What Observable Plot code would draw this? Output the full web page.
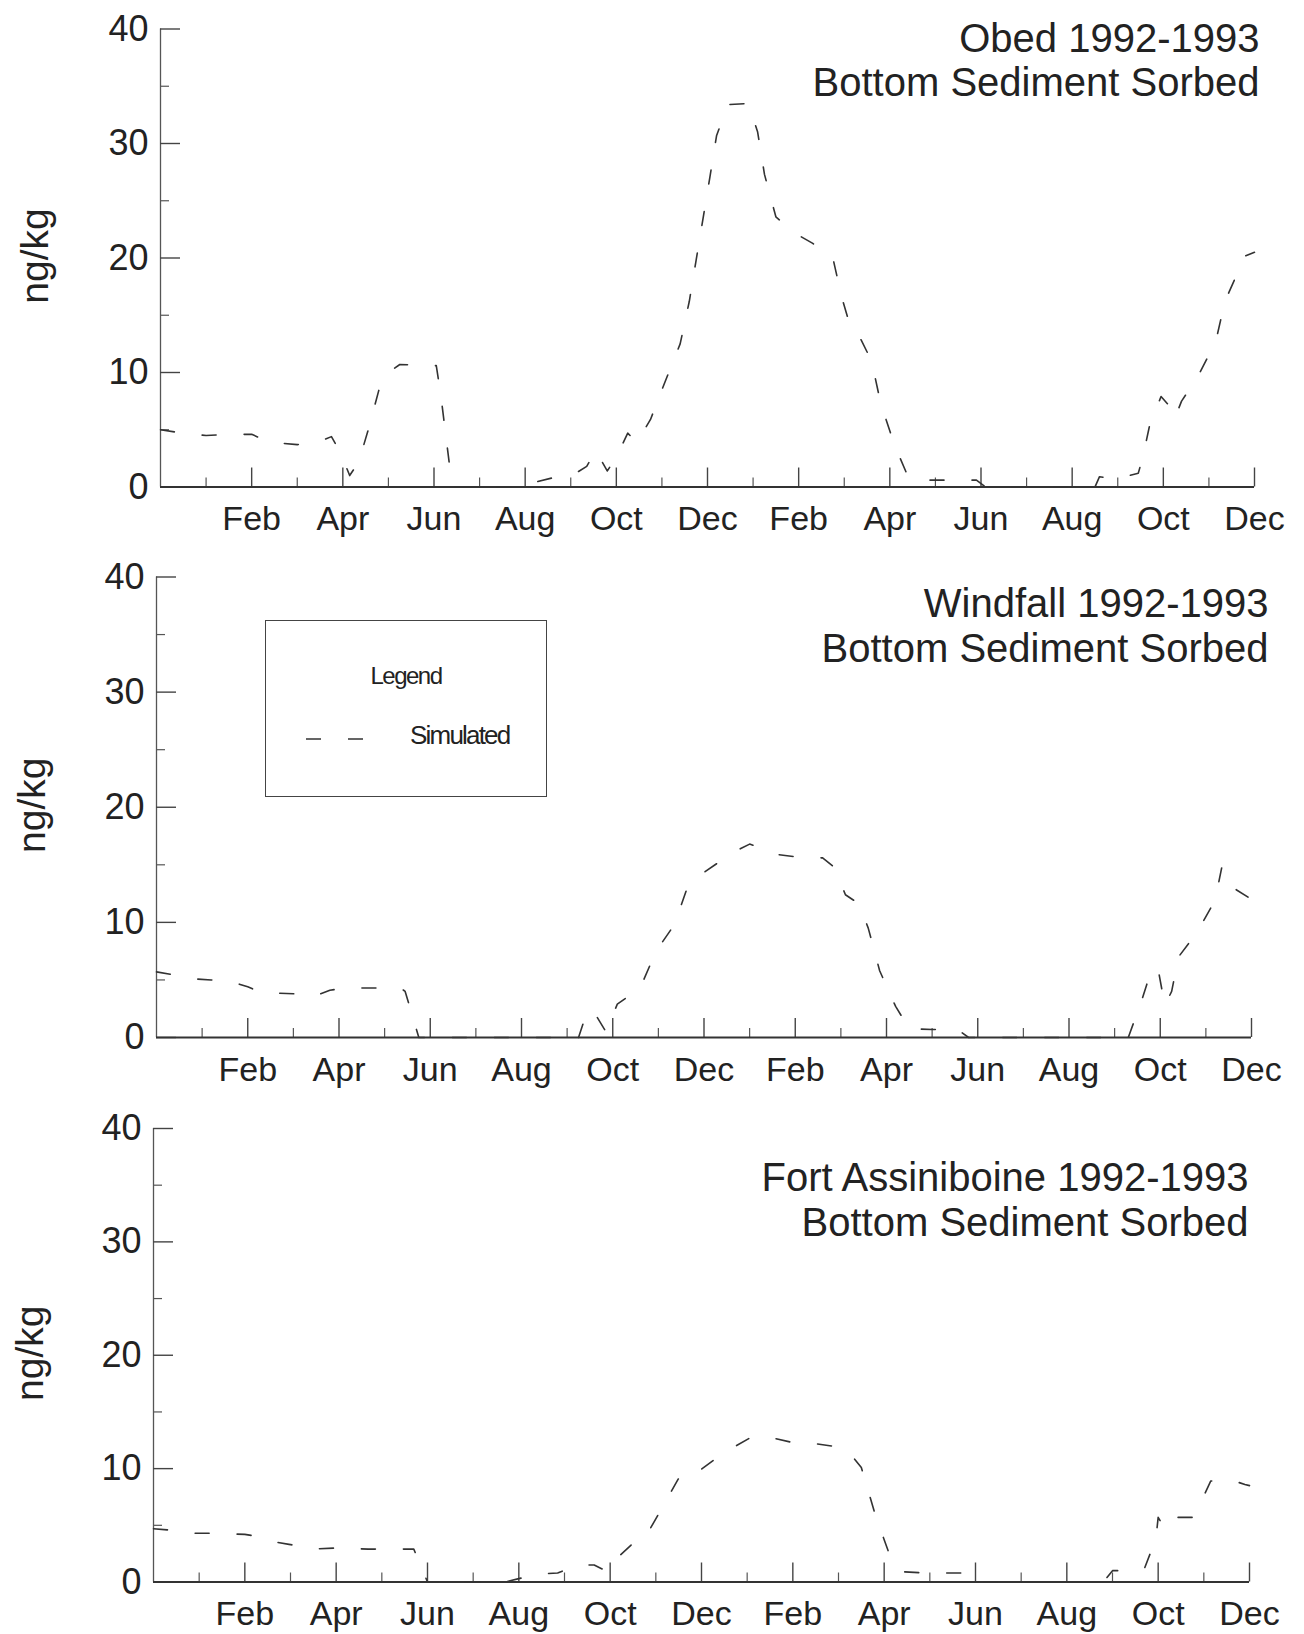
<!DOCTYPE html>
<html>
<head>
<meta charset="utf-8">
<script src="https://cdn.jsdelivr.net/npm/d3@7"></script>
<script src="https://cdn.jsdelivr.net/npm/@observablehq/plot@0.6"></script>
<style>
  body { margin: 0; background: #fff; }
  #chart { position: relative; width: 1304px; height: 1634px; font-family: "Liberation Sans", Arial, sans-serif; color: #222; }
  .panel { position: absolute; left: 0; }
  .panel svg { overflow: visible; }
  .legend { position: absolute; box-sizing: border-box; border: 1.5px solid #444; background: #fff; }
  .legend .head { position: absolute; left: 0; right: 0; text-align: center; font-size: 24px; letter-spacing: -1.5px; color: #222; }
  .legend .item { position: absolute; font-size: 26px; letter-spacing: -1.8px; color: #222; }
  .legend svg { position: absolute; }
</style>
</head>
<body>
<div id="chart"></div>
<script>
// Month labels at every second month boundary, Jan 1992 .. Dec 1993 (x = months since 1 Jan 1992)
const monthLabels = ["Feb", "Apr", "Jun", "Aug", "Oct", "Dec", "Feb", "Apr", "Jun", "Aug", "Oct", "Dec"];
const yTicks = [0, 10, 20, 30, 40];
const yMinorTicks = [5, 15, 25, 35];
const subtitle = "Bottom Sediment Sorbed";
const seriesName = "Simulated";

// Obed: simulated bottom-sediment sorbed concentration (ng/kg)
const obedMonth = [0, 0.5, 1.0, 1.5, 2.0, 2.4, 3.0, 3.5, 3.75, 3.95, 4.15, 4.35, 4.55, 4.8, 5.0, 5.25, 6.05, 6.15, 6.4, 8.0, 8.2, 8.7, 9.15, 9.35, 9.55, 9.8, 10.0, 10.25, 10.45, 10.75, 11.05, 11.4, 11.6, 11.75, 11.9, 12.05, 12.2, 12.45, 12.9, 13.1, 13.25, 13.5, 13.9, 14.3, 14.75, 14.95, 15.15, 15.35, 15.6, 15.8, 16.1, 16.4, 16.6, 17.9, 18.1, 20.5, 20.6, 20.95, 21.45, 21.55, 21.7, 21.95, 22.15, 22.25, 22.4, 22.75, 23.15, 23.35, 23.65, 23.75, 24.0];
const obedValue = [5.0, 4.7, 4.5, 4.6, 4.6, 3.9, 3.7, 4.0, 4.4, 3.0, 1.0, 2.2, 4.9, 8.6, 10.0, 10.7, 10.6, 8.0, 0, 0, 0.4, 0.9, 1.3, 1.8, 3.2, 1.4, 2.6, 4.7, 3.9, 5.9, 9.0, 12.5, 16.2, 19.8, 23.4, 27.0, 30.7, 33.4, 33.5, 31.0, 27.3, 23.6, 22.2, 21.3, 20.0, 16.5, 13.8, 13.0, 11.0, 7.3, 3.7, 0.9, 0.6, 0.6, 0, 0, 0.9, 0.7, 1.2, 2.6, 5.4, 7.9, 7.0, 6.0, 7.5, 9.6, 12.7, 16.2, 18.9, 20.1, 20.5];

// Windfall
const windfallMonth = [0, 0.3, 0.8, 1.2, 1.6, 2.0, 2.3, 3.0, 3.4, 3.8, 4.1, 5.35, 5.45, 5.75, 9.25, 9.45, 9.62, 9.85, 10.1, 10.6, 10.95, 11.35, 11.65, 11.95, 12.35, 12.7, 13.0, 13.3, 13.6, 14.0, 14.6, 14.85, 15.1, 15.4, 15.6, 15.85, 16.2, 16.5, 17.0, 17.55, 17.8, 21.3, 21.6, 21.8, 21.95, 22.1, 22.25, 22.4, 22.8, 23.2, 23.35, 23.6, 24.0];
const windfallValue = [5.7, 5.5, 5.1, 5.0, 4.9, 4.4, 3.9, 3.8, 3.5, 4.1, 4.3, 4.3, 4.0, 0, 0, 2.4, 2.0, 0.5, 2.9, 4.3, 7.5, 9.8, 13.2, 14.2, 15.3, 16.2, 16.8, 16.4, 15.9, 15.7, 15.6, 14.8, 12.4, 11.6, 9.5, 5.8, 2.7, 0.75, 0.7, 0.7, 0, 0, 3.3, 5.8, 6.0, 2.8, 4.0, 7.0, 9.1, 11.9, 14.8, 13.0, 12.0];

// Fort Assiniboine
const fortMonth = [0, 0.3, 0.7, 1.2, 2.0, 2.3, 2.7, 3.0, 3.5, 4.0, 4.7, 5.7, 6.0, 7.7, 8.0, 8.45, 8.85, 9.3, 9.65, 9.95, 10.2, 10.55, 10.75, 11.2, 11.55, 11.85, 12.45, 13.1, 13.45, 14.0, 14.3, 14.85, 15.2, 15.5, 15.8, 16.1, 16.4, 16.9, 17.9, 18.0, 20.8, 21.0, 21.45, 21.7, 21.95, 22.0, 22.15, 22.35, 22.75, 23.0, 23.15, 23.6, 23.9, 24.0];
const fortValue = [4.7, 4.6, 4.3, 4.3, 4.2, 4.0, 3.5, 3.3, 2.9, 3.0, 2.9, 2.9, 0, 0, 0.3, 0.7, 0.8, 1.5, 1.5, 0.9, 2.3, 3.6, 3.8, 7.0, 9.5, 9.5, 11.3, 12.8, 12.8, 12.3, 12.3, 12.0, 11.6, 10.1, 6.0, 2.6, 0.9, 0.8, 0.8, 0, 0, 1.0, 1.0, 1.2, 3.8, 5.7, 4.7, 5.7, 5.7, 7.6, 8.9, 9.0, 8.6, 8.5];

const lineStyle = { stroke: "#333", strokeWidth: 1.6, strokeDasharray: "14,28" };

// Layout of the three stacked panels (pixels)
const panels = [
  { title: "Obed 1992-1993", month: obedMonth, value: obedValue,
    top: 0, height: 545, mt: 28.5, mb: 58.5, ml: 160, mr: 50, tdx: 5, tdy: [10.5, 54.5], ldx: -124.5 },
  { title: "Windfall 1992-1993", month: windfallMonth, value: windfallValue,
    top: 545, height: 545, mt: 31.5, mb: 53, ml: 156, mr: 53, tdx: 17, tdy: [27, 72.5], ldx: -124 },
  { title: "Fort Assiniboine 1992-1993", month: fortMonth, value: fortValue,
    top: 1090, height: 544, mt: 38, mb: 52.5, ml: 153, mr: 55, tdx: -1, tdy: [50, 95], ldx: -123 }
];

const evenMonths = d3.range(2, 25, 2);
const oddMonths = d3.range(1, 24, 2);
const root = document.getElementById("chart");

for (const p of panels) {
  const data = p.month.map((m, i) => ({ month: m, value: p.value[i] }));
  const svg = Plot.plot({
    width: 1304,
    height: p.height,
    marginTop: p.mt,
    marginBottom: p.mb,
    marginLeft: p.ml,
    marginRight: p.mr,
    x: { domain: [0, 24], axis: null, label: null },
    y: { domain: [0, 40], axis: null, label: null },
    style: { fontFamily: "'Liberation Sans', Arial, sans-serif", color: "#222", background: "transparent" },
    marks: [
      Plot.ruleX([0], { y1: 0, y2: 40, stroke: "#555", strokeWidth: 1.3 }),
      Plot.axisY(yTicks, { tickSize: -20, text: null, label: null, stroke: "#444", strokeWidth: 1.4 }),
      Plot.axisY(yMinorTicks, { tickSize: -9, text: null, label: null, stroke: "#555", strokeWidth: 1.2 }),
      Plot.axisY(yTicks, { tickSize: 0, tickPadding: 12, fontSize: 36, label: null }),
      Plot.axisX(evenMonths, { tickSize: -19, text: null, label: null, stroke: "#444", strokeWidth: 1.4 }),
      Plot.axisX(oddMonths, { tickSize: -9, text: null, label: null, stroke: "#555", strokeWidth: 1.2 }),
      Plot.axisX(evenMonths, { tickSize: 0, tickPadding: 19, fontSize: 34, label: null,
        tickFormat: (d) => monthLabels[d / 2 - 1] }),
      Plot.ruleY([0], { stroke: "#333", strokeWidth: 2 }),
      Plot.line(data, { x: "month", y: "value", ...lineStyle }),
      Plot.text([p.title], { frameAnchor: "top-right", textAnchor: "end", lineAnchor: "middle",
        dx: p.tdx, dy: p.tdy[0], fontSize: 40, fill: "#222" }),
      Plot.text([subtitle], { frameAnchor: "top-right", textAnchor: "end", lineAnchor: "middle",
        dx: p.tdx, dy: p.tdy[1], fontSize: 40, fill: "#222" }),
      Plot.text(["ng/kg"], { frameAnchor: "left", textAnchor: "middle", lineAnchor: "middle", rotate: -90,
        dx: p.ldx, dy: -2, fontSize: 39, fill: "#222" })
    ]
  });
  const wrap = document.createElement("div");
  wrap.className = "panel";
  wrap.style.top = p.top + "px";
  wrap.appendChild(svg);
  root.appendChild(wrap);
}

// Legend box inside the Windfall panel
const legend = document.createElement("div");
legend.className = "legend";
Object.assign(legend.style, { left: "265px", top: "620px", width: "282px", height: "177px" });
legend.innerHTML = `<div class="head" style="top:41px;">Legend</div>
  <svg width="70" height="10" style="left:38px;top:113px;"><line x1="2" y1="5" x2="70" y2="5"
    stroke="${lineStyle.stroke}" stroke-width="${lineStyle.strokeWidth}" stroke-dasharray="15,27"/></svg>
  <div class="item" style="left:144px;top:99px;">${seriesName}</div>`;
root.appendChild(legend);
</script>
</body>
</html>
